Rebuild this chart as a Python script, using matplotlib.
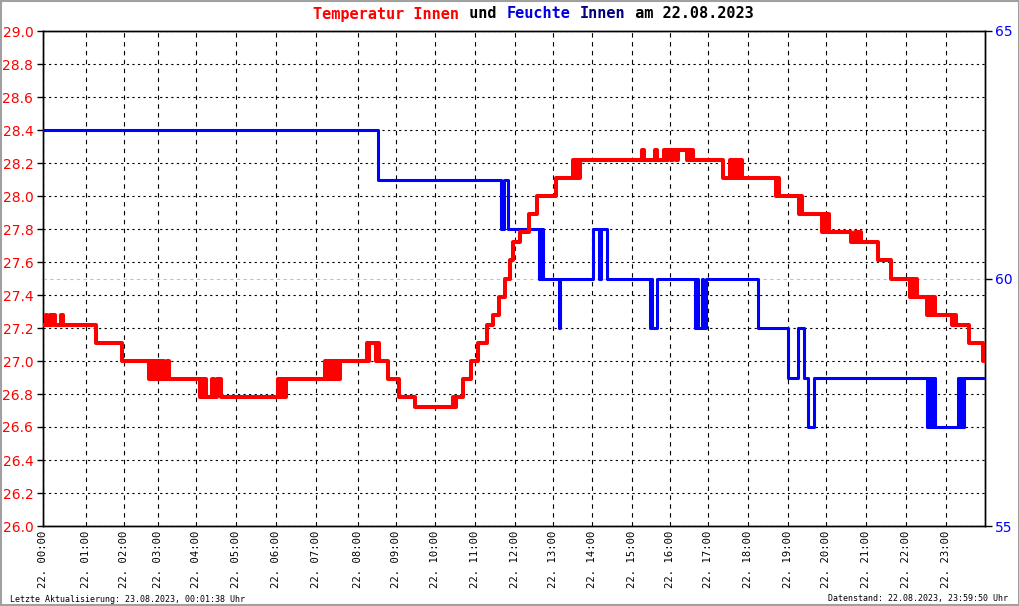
import numpy as np
import matplotlib
matplotlib.use('Agg')
import matplotlib.pyplot as plt
from matplotlib.patches import Rectangle

# x axis of the original is slightly uneven: pixel column of each full hour
tick_hours = list(range(25))
hour_px = [43, 86, 124, 158, 196, 236, 276, 316, 358, 396, 435, 475, 515,
           553, 592, 632, 670, 708, 748, 788, 826, 866, 906, 946, 985]

# Temperatur Innen (step data, hour of day -> degC)
temp_t = [0.00, 0.06, 0.09, 0.16, 0.20, 0.22, 0.28, 0.42, 0.46, 1.26, 1.95,
          2.74, 2.78, 2.82, 2.86, 2.90, 2.94, 2.97, 3.03, 3.08, 3.10, 3.16, 3.24, 3.29,
          4.10, 4.14, 4.18, 4.22, 4.26, 4.40, 4.45, 4.52, 4.62,
          6.05, 6.09, 6.14, 6.20, 6.25,
          7.22, 7.26, 7.30, 7.35, 7.40, 7.45, 7.50, 7.54, 7.58,
          8.24, 8.27, 8.30, 8.48, 8.51, 8.55, 8.79, 9.08, 9.49,
          10.45, 10.48, 10.53, 10.70, 10.90, 11.08, 11.30, 11.45, 11.60, 11.75,
          11.88, 11.95, 12.13, 12.37, 12.58, 13.08,
          13.52, 13.56, 13.60, 13.65, 13.70,
          15.26, 15.31, 15.60, 15.65, 15.84, 15.90, 15.95, 16.03, 16.07, 16.17,
          16.21, 16.45, 16.49, 16.53, 16.57, 16.60,
          17.38, 17.55, 17.60, 17.63, 17.68, 17.72, 17.76, 17.80, 17.85,
          18.70, 18.74, 18.78, 19.28, 19.33, 19.38,
          19.89, 19.94, 19.99, 20.03, 20.07,
          20.62, 20.72, 20.77, 20.82, 20.88, 21.30, 21.63,
          22.10, 22.14, 22.18, 22.22, 22.27,
          22.53, 22.58, 22.63, 22.68, 22.73,
          23.15, 23.20, 23.25, 23.59, 23.95, 24.00]
temp_v = [27.22, 27.28, 27.22, 27.28, 27.22, 27.28, 27.22, 27.28, 27.22, 27.11, 27.00,
          26.89, 27.00, 26.89, 27.00, 26.89, 27.00, 26.89, 27.00, 26.89, 27.00, 26.89, 27.00, 26.89,
          26.78, 26.89, 26.78, 26.89, 26.78, 26.89, 26.78, 26.89, 26.78,
          26.89, 26.78, 26.89, 26.78, 26.89,
          27.00, 26.89, 27.00, 26.89, 27.00, 26.89, 27.00, 26.89, 27.00,
          27.11, 27.00, 27.11, 27.00, 27.11, 27.00, 26.89, 26.78, 26.72,
          26.78, 26.72, 26.78, 26.89, 27.00, 27.11, 27.22, 27.28, 27.39, 27.50,
          27.61, 27.72, 27.78, 27.89, 28.00, 28.11,
          28.22, 28.11, 28.22, 28.11, 28.22,
          28.28, 28.22, 28.28, 28.22, 28.28, 28.22, 28.28, 28.22, 28.28, 28.22,
          28.28, 28.22, 28.28, 28.22, 28.28, 28.22,
          28.11, 28.22, 28.11, 28.22, 28.11, 28.22, 28.11, 28.22, 28.11,
          28.00, 28.11, 28.00, 27.89, 28.00, 27.89,
          27.78, 27.89, 27.78, 27.89, 27.78,
          27.72, 27.78, 27.72, 27.78, 27.72, 27.61, 27.50,
          27.39, 27.50, 27.39, 27.50, 27.39,
          27.28, 27.39, 27.28, 27.39, 27.28,
          27.22, 27.28, 27.22, 27.11, 27.00, 27.00]

# Feuchte Innen (step data, hour of day -> %)
hum_t = [0.00, 8.53, 11.65, 11.72, 11.82, 12.63, 12.66, 12.69, 12.72, 12.74,
         13.15, 13.19, 14.02, 14.17, 14.22, 14.37,
         15.47, 15.50, 15.53, 15.66,
         16.66, 16.70, 16.74, 16.84, 16.88, 16.95,
         18.25, 19.00, 19.26, 19.42, 19.52, 19.68,
         22.53, 22.56, 22.59, 22.62, 22.66, 22.70, 22.73,
         23.30, 23.34, 23.38, 23.42, 23.46, 24.00]
hum_v = [63, 62, 61, 62, 61, 60, 61, 60, 61, 60,
         59, 60, 61, 60, 61, 60,
         59, 60, 59, 60,
         59, 60, 59, 60, 59, 60,
         59, 58, 59, 58, 57, 58,
         57, 58, 57, 58, 57, 58, 57,
         58, 57, 58, 57, 58, 58]

temp_ticks = np.round(np.arange(26.0, 29.01, 0.2), 1)
hum_ticks = [55, 60, 65]
hour_labels = ['22. %02d:00' % h for h in range(24)]


def fwd(h):
    return np.interp(h, tick_hours, hour_px)


def inv(p):
    return np.interp(p, hour_px, tick_hours)


W, H = 1020, 606
fig = plt.figure(figsize=(W / 100, H / 100), dpi=100)
ax = fig.add_axes([43 / W, 80 / H, 942 / W, 495 / H])
ax2 = ax.twinx()

ax.set_xscale('function', functions=(fwd, inv))

ax2.step(hum_t, hum_v, where='post', color='#0000ff', lw=2.2, zorder=3)
# temperature drawn in the upper axes so it lies on top of humidity
ax2.step(temp_t, temp_v, where='post', color='#ff0000', lw=2.9, zorder=4,
         transform=ax.transData)
ax2.axhline(60, color='#c0c0c0', lw=0.8, ls=(0, (3, 3)), zorder=1)

ax.set_xlim(0, 24)
ax.set_ylim(26, 29)
ax2.set_ylim(55, 65)

ax.set_xticks(range(24))
ax.set_xticklabels(hour_labels, rotation=90, family='DejaVu Sans Mono',
                   fontsize=7.6, va='top')
ax.set_yticks(temp_ticks)
ax.set_yticklabels(['%.1f' % v for v in temp_ticks], fontsize=10, color='#ff0000')
ax2.set_yticks(hum_ticks)
ax2.set_yticklabels([str(v) for v in hum_ticks], fontsize=10, color='#0000ff')

ax.tick_params(axis='x', length=0, pad=3)
ax.tick_params(axis='y', length=4, width=1, pad=3, direction='out')
ax2.tick_params(axis='y', length=5, width=1, pad=2, direction='out')

ax.grid(True, axis='x', color='k', lw=0.8, ls=(0, (4, 4)))
ax.grid(True, axis='y', color='k', lw=0.8, ls=(0, (2, 3)))
ax.set_axisbelow(True)

for a in (ax, ax2):
    for s in a.spines.values():
        s.set_color('k')
        s.set_linewidth(1)

# title in coloured pieces, monospace so pieces can be laid out by char count
parts = [('Temperatur Innen', '#ff0000'), (' und ', 'k'),
         ('Feuchte', '#0000dd'), (' ', 'k'), ('Innen', '#000080'),
         (' am 22.08.2023', 'k')]
fs = 11
cw = 0.6021 * fs * 100 / 72
x0 = 313
n = 0
for txt, col in parts:
    fig.text((x0 + n * cw) / W, 1 - 14 / H, txt, color=col, fontsize=fs,
             family='DejaVu Sans Mono', weight='bold', ha='left', va='center')
    n += len(txt)

fig.text(10 / W, 1 - 599 / H, 'Letzte Aktualisierung: 23.08.2023, 00:01:38 Uhr',
         fontsize=6, family='DejaVu Sans Mono', ha='left', va='center')
fig.text(1008 / W, 1 - 599 / H, 'Datenstand: 22.08.2023, 23:59:50 Uhr',
         fontsize=6, family='DejaVu Sans Mono', ha='right', va='center')

fig.add_artist(Rectangle((0.001, 0.001), 0.998, 0.997, transform=fig.transFigure,
                         fill=False, edgecolor='#a0a0a0', lw=1.5))

fig.savefig('out.png', dpi=100)
